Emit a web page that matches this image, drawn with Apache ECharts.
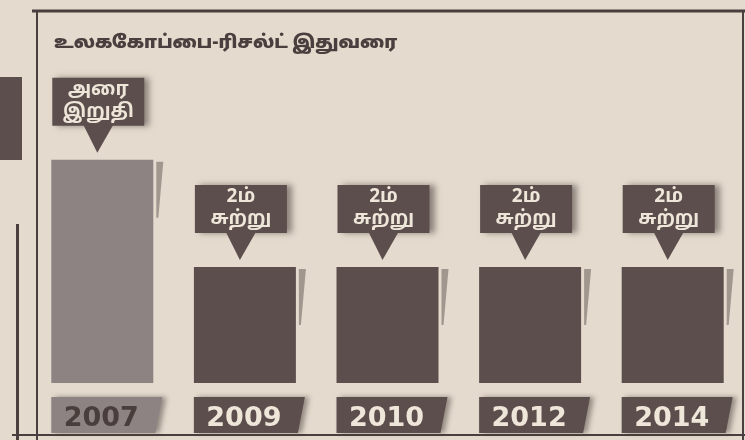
<!DOCTYPE html>
<html>
<head>
<meta charset="utf-8">
<script src="https://cdn.jsdelivr.net/npm/echarts@6/dist/echarts.min.js"></script>
<style>
  html, body { margin: 0; padding: 0; background: #e4dacd; }
  #chart { width: 745px; height: 440px; }
</style>
</head>
<body>
<div id="chart"></div>
<script>
// world cup stage reached, per tournament (bar height, 2nd round = 2)
const years = ['2007', '2009', '2010', '2012', '2014'];
const reached = [3.85, 2, 2, 2, 2];
const stageNames = ['அரை\nஇறுதி', '2ம்\nசுற்று', '2ம்\nசுற்று', '2ம்\nசுற்று', '2ம்\nசுற்று'];
const title = 'உலககோப்பை-ரிசல்ட் இதுவரை';

const DARK = '#5b4e4d';
const LIGHT = '#8d8382';
const INK = '#4a3f3e';
const PAPER_TEXT = '#efe6da';
const tamilFont = '"Noto Sans Tamil", "Lohit Tamil", "Noto Sans", sans-serif';

const chart = echarts.init(document.getElementById('chart'));

function renderTags(params, api) {
  const i = api.value(0);
  const top = api.coord([i, api.value(1)]);
  const base = api.coord([i, 0]);
  const left = top[0] - 51;
  const right = top[0] + 51;
  const ty = top[1];
  const by = base[1];
  const first = i === 0;
  return {
    type: 'group',
    children: [
      // smudged shadow on the right edge of the bar
      {
        type: 'polygon',
        shape: { points: [[right + 3, ty + 2], [right + 10, ty + 2], [right + 5, ty + 58], [right + 3, ty + 58]] },
        style: { fill: 'rgba(80,68,66,0.45)' }
      },
      // callout box
      {
        type: 'rect',
        shape: { x: left + 1, y: ty - 82, width: 92, height: 48 },
        style: { fill: DARK, shadowBlur: 6, shadowOffsetX: 5, shadowOffsetY: 0, shadowColor: 'rgba(70,60,58,0.55)' }
      },
      {
        type: 'polygon',
        shape: { points: [[left + 32, ty - 35], [left + 62, ty - 35], [left + 46, ty - 7]] },
        style: { fill: DARK }
      },
      {
        type: 'text',
        style: {
          text: stageNames[i],
          x: left + 47,
          y: ty - 58,
          align: 'center',
          verticalAlign: 'middle',
          fill: PAPER_TEXT,
          font: 'bold 19px ' + tamilFont,
          lineHeight: 22
        }
      },
      // year tag under the bar
      {
        type: 'polygon',
        shape: { points: [[left, by + 14], [left + 111, by + 14], [left + 104, by + 50], [left, by + 50]] },
        style: { fill: first ? LIGHT : DARK, shadowBlur: 5, shadowOffsetX: 4, shadowColor: 'rgba(70,60,58,0.5)' }
      },
      {
        type: 'text',
        style: {
          text: years[i],
          x: left + 50,
          y: by + 36,
          align: 'center',
          verticalAlign: 'middle',
          fill: first ? '#4a3e3d' : PAPER_TEXT,
          font: 'bold 27px "DejaVu Sans", sans-serif'
        }
      }
    ]
  };
}

const option = {
  backgroundColor: '#e4dacd',
  animation: false,
  title: {
    text: title,
    left: 49,
    top: 30,
    textStyle: { fontSize: 18, fontWeight: 900, color: INK, fontFamily: tamilFont }
  },
  grid: { left: 31, right: 1, top: 93, bottom: 57, containLabel: false },
  xAxis: {
    type: 'category',
    data: years,
    axisLine: { show: false },
    axisTick: { show: false },
    axisLabel: { show: false },
    splitLine: { show: false }
  },
  yAxis: {
    type: 'value',
    min: 0,
    max: 5,
    show: false
  },
  graphic: [
    // newspaper frame
    { type: 'line', shape: { x1: 32, y1: 11, x2: 745, y2: 11 }, style: { stroke: INK, lineWidth: 3 } },
    { type: 'line', shape: { x1: 37, y1: 10, x2: 37, y2: 440 }, style: { stroke: INK, lineWidth: 2 } },
    { type: 'line', shape: { x1: 12, y1: 435, x2: 745, y2: 435 }, style: { stroke: INK, lineWidth: 2 } },
    { type: 'line', shape: { x1: 743, y1: 10, x2: 743, y2: 440 }, style: { stroke: INK, lineWidth: 2 } },
    { type: 'line', shape: { x1: 17.5, y1: 224, x2: 17.5, y2: 440 }, style: { stroke: INK, lineWidth: 3 } },
    { type: 'rect', shape: { x: 0, y: 77, width: 22, height: 83 }, style: { fill: DARK } }
  ],
  series: [
    {
      type: 'bar',
      barWidth: 102,
      data: reached.map((v, i) => ({
        value: v,
        itemStyle: { color: i === 0 ? LIGHT : DARK }
      })),
      z: 2
    },
    {
      type: 'custom',
      renderItem: renderTags,
      data: years.map((y, i) => [i, reached[i]]),
      clip: false,
      z: 3
    }
  ]
};

chart.setOption(option);
</script>
</body>
</html>
